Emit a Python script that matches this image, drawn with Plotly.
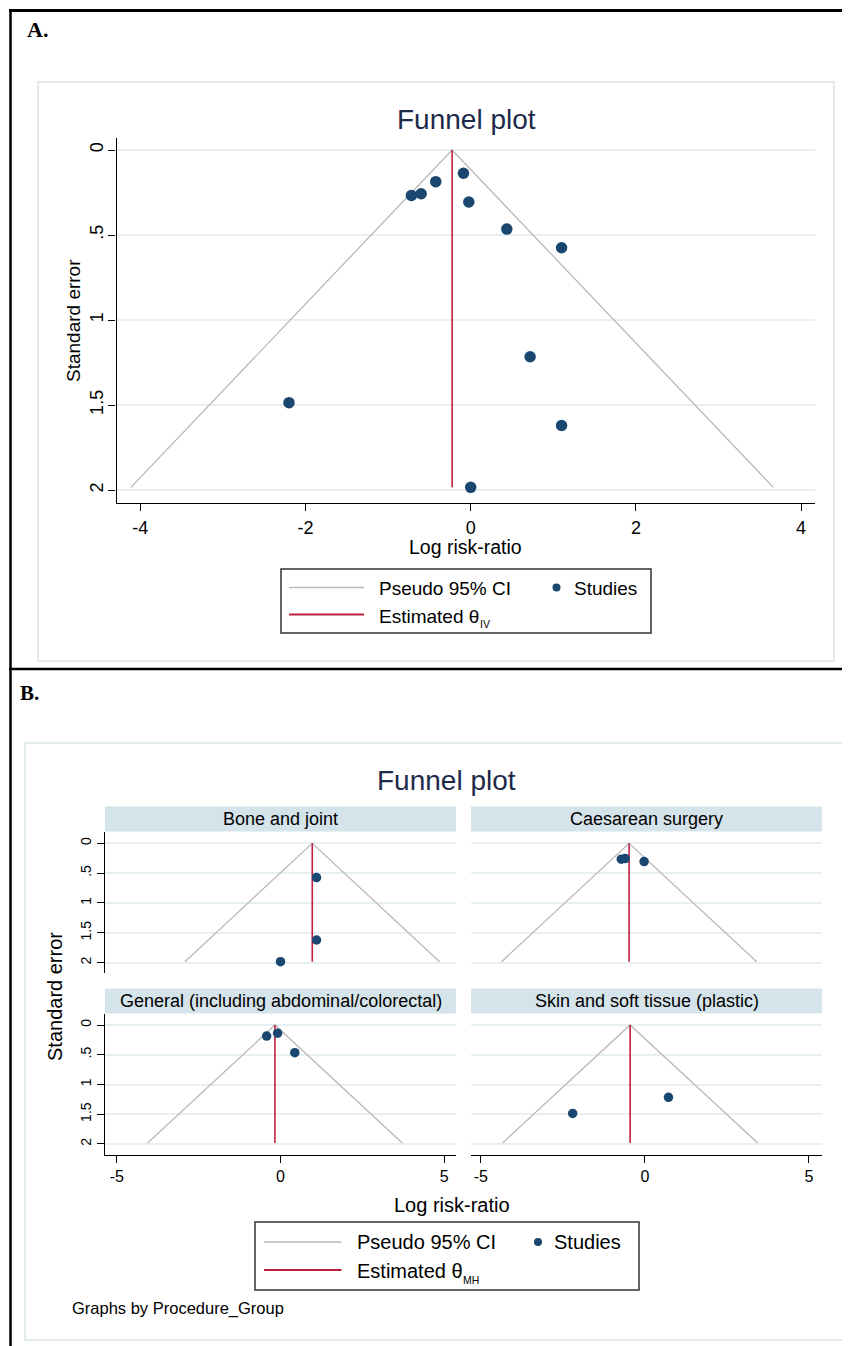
import plotly.graph_objects as go

# The page body has an 8px margin: draw the figure 8px smaller and shift all
# pixel positions so they land on the reference's page coordinates.
OFF = 8
W, H = 850 - OFF, 1346 - OFF
FONT = "Liberation Sans, Arial, Helvetica, sans-serif"

# ---------------- data ----------------
log_rr = [-0.088, -0.423, -0.60, -0.718, -0.023, 0.437, 1.10, 0.719, -2.20, 1.10, 0.0]
std_err = [0.137, 0.186, 0.257, 0.267, 0.306, 0.465, 0.575, 1.216, 1.486, 1.62, 1.984]
study_group = ["General (including abdominal/colorectal)", "General (including abdominal/colorectal)",
               "Caesarean surgery", "Caesarean surgery", "Caesarean surgery",
               "General (including abdominal/colorectal)", "Bone and joint",
               "Skin and soft tissue (plastic)", "Skin and soft tissue (plastic)",
               "Bone and joint", "Bone and joint"]
groups = ["Bone and joint", "Caesarean surgery",
          "General (including abdominal/colorectal)", "Skin and soft tissue (plastic)"]
theta_mh = [0.97, -0.48, -0.17, -0.45]
theta_iv = -0.225
xticks_a = [-4, -2, 0, 2, 4]
xticks_b = [-5, 0, 5]
yticks = [0, 0.5, 1, 1.5, 2]
yticklabels = ["0", ".5", "1", "1.5", "2"]

Z = 1.96
se_max = max(std_err)

NAVY = "#1a476f"
RED = "#c0203f"
GRAY = "#b9b9b9"
GRID = "#e6eff1"
TITLE_C = "#1d2a4a"


def X(p):
    return (p - OFF) / W


def Y(p):
    return 1 - (p - OFF) / H


fig = go.Figure()


def add_funnel(theta, xs, ys, xa, ya, msize):
    fig.add_trace(go.Scatter(
        x=[theta - Z * se_max, theta, theta + Z * se_max], y=[se_max, 0, se_max],
        mode="lines", line=dict(color=GRAY, width=1.3), xaxis=xa, yaxis=ya,
        showlegend=False, hoverinfo="skip"))
    fig.add_trace(go.Scatter(
        x=[theta, theta], y=[0, se_max], mode="lines",
        line=dict(color=RED, width=1.6), xaxis=xa, yaxis=ya,
        showlegend=False, hoverinfo="skip"))
    fig.add_trace(go.Scatter(
        x=xs, y=ys, mode="markers", marker=dict(color=NAVY, size=msize),
        xaxis=xa, yaxis=ya, showlegend=False))


# Panel A
add_funnel(theta_iv, log_rr, std_err, "x", "y", 11.5)

# Panel B
axes_b = [("x2", "y2"), ("x3", "y3"), ("x4", "y4"), ("x5", "y5")]
for g, th, (xa, ya) in zip(groups, theta_mh, axes_b):
    xs = [v for v, gg in zip(log_rr, study_group) if gg == g]
    ys = [v for v, gg in zip(std_err, study_group) if gg == g]
    add_funnel(th, xs, ys, xa, ya, 9.5)

tickfont_a = dict(family=FONT, size=18, color="black")

layout = dict(
    width=W, height=H, margin=dict(l=0, r=0, t=0, b=0),
    paper_bgcolor="white", plot_bgcolor="white", showlegend=False,
    font=dict(family=FONT, color="black"),
)

# Panel A axes
layout["xaxis"] = dict(domain=[X(116.5), X(815)], range=[-4.288, 4.168], anchor="y",
                       showline=True, linecolor="black", linewidth=1.3, mirror=False,
                       ticks="outside", ticklen=7, tickcolor="black", tickwidth=1.2,
                       tickvals=xticks_a, ticktext=[str(v) for v in xticks_a],
                       tickfont=tickfont_a, showgrid=False, zeroline=False,
                       ticklabelstandoff=1)
layout["yaxis"] = dict(domain=[Y(503), Y(138)], range=[2.076, -0.0706], anchor="x",
                       showline=True, linecolor="black", linewidth=1.3,
                       ticks="outside", ticklen=7, tickcolor="black", tickwidth=1.2,
                       tickvals=yticks, ticktext=yticklabels, tickangle=-90,
                       tickfont=tickfont_a, showgrid=True, gridcolor=GRID, gridwidth=1.5,
                       zeroline=False, ticklabelstandoff=-2)

# Panel B axes
cols = [(105, 456, [-5.359, 5.359]), (471, 822, [-5.30, 5.40])]
rows = [(832, 973, [2.173, -0.189]), (1014, 1155, [2.185, -0.185])]
for i, (xa, ya) in enumerate(axes_b):
    r, c = divmod(i, 2)
    x0, x1, xr = cols[c]
    y0, y1, yr = rows[r]
    n = xa[1:]
    bottom = r == 1
    left = c == 0
    layout["xaxis" + n] = dict(domain=[X(x0), X(x1)], range=xr, anchor=ya,
                               showline=bottom, linecolor="black", linewidth=1.3,
                               ticks="outside" if bottom else "", ticklen=7,
                               tickcolor="black", tickwidth=1.2,
                               tickvals=xticks_b, ticktext=[str(v) for v in xticks_b],
                               showticklabels=bottom,
                               tickfont=dict(family=FONT, size=16, color="black"),
                               showgrid=False, zeroline=False)
    layout["yaxis" + n] = dict(domain=[Y(y1), Y(y0)], range=yr, anchor=xa,
                               showline=left, linecolor="black", linewidth=1.3,
                               ticks="outside" if left else "", ticklen=7,
                               tickcolor="black", tickwidth=1.2,
                               tickvals=yticks, ticktext=yticklabels, tickangle=-90,
                               showticklabels=left,
                               tickfont=dict(family=FONT, size=14, color="black"),
                               showgrid=True, gridcolor=GRID, gridwidth=1.5,
                               zeroline=False)

fig.update_layout(**layout)

shapes = []
annotations = []


def rect(x0, y0, x1, y1, **kw):
    shapes.append(dict(type="rect", xref="paper", yref="paper",
                       x0=X(x0), x1=X(x1), y0=Y(y1), y1=Y(y0), **kw))


def hline(x0, x1, y, color, width):
    shapes.append(dict(type="line", xref="paper", yref="paper",
                       x0=X(x0), x1=X(x1), y0=Y(y), y1=Y(y),
                       line=dict(color=color, width=width)))


def vline(x, y0, y1, color, width):
    shapes.append(dict(type="line", xref="paper", yref="paper",
                       x0=X(x), x1=X(x), y0=Y(y0), y1=Y(y1),
                       line=dict(color=color, width=width)))


def text(x, y, s, size, xanchor="center", color="black", angle=0, family=FONT,
         weight="normal"):
    annotations.append(dict(x=X(x), y=Y(y), xref="paper", yref="paper", text=s,
                            showarrow=False, xanchor=xanchor, yanchor="middle",
                            textangle=angle,
                            font=dict(family=family, size=size, color=color,
                                      weight=weight)))


# outer black frame
hline(9, 850, 10.5, "black", 3)
vline(10.5, 9, 1346, "black", 2.5)
hline(9, 850, 669, "black", 2.5)

# light graph-region boxes
rect(38, 82, 834, 661, line=dict(color="#e2ecee", width=2), layer="below")
rect(25, 743, 849, 1340, line=dict(color="#e2ecee", width=2), layer="below")

# panel letters
SERIF = "Liberation Serif, Times New Roman, serif"
text(25, 29, "A.", 22, xanchor="left", family=SERIF, weight="bold")
text(18, 693, "B.", 21, xanchor="left", family=SERIF, weight="bold")

# Panel A texts
text(466, 119, "Funnel plot", 28, color=TITLE_C)
text(73, 321, "Standard error", 19, angle=-90)
text(465, 547, "Log risk-ratio", 19.5)

# Panel A legend
rect(281, 569, 651, 633, line=dict(color="#333333", width=1.5))
hline(289, 364, 587.5, GRAY, 1.6)
hline(289, 364, 614.5, RED, 1.8)
shapes.append(dict(type="circle", xref="paper", yref="paper",
                   x0=X(552.5), x1=X(560.5), y0=Y(591.5), y1=Y(583.5),
                   fillcolor=NAVY, line=dict(width=0)))
text(376.5, 588, "Pseudo 95% CI", 19, xanchor="left")
text(572, 588, "Studies", 19, xanchor="left")
text(376.5, 616, "Estimated θ", 19, xanchor="left")
text(477.5, 624, "IV", 10.5, xanchor="left")

# Panel B texts
text(447, 780, "Funnel plot", 28, color=TITLE_C)
text(55, 997, "Standard error", 20, angle=-90)
text(452, 1205, "Log risk-ratio", 20)

# strips
strip_rows = [(806.5, 831.5), (988.5, 1013.5)]
for i, g in enumerate(groups):
    r, c = divmod(i, 2)
    x0, x1, _ = cols[c]
    y0, y1 = strip_rows[r]
    rect(x0, y0, x1, y1, fillcolor="#d5e3ea", line=dict(width=0), layer="below")
    text((x0 + x1) / 2, (y0 + y1) / 2, g, 18)

# Panel B legend
rect(255, 1222, 639, 1290, line=dict(color="#333333", width=1.5))
hline(264, 341.5, 1242, GRAY, 1.6)
hline(264, 341.5, 1270, RED, 1.8)
shapes.append(dict(type="circle", xref="paper", yref="paper",
                   x0=X(534), x1=X(542), y0=Y(1246), y1=Y(1238),
                   fillcolor=NAVY, line=dict(width=0)))
text(355, 1242, "Pseudo 95% CI", 20, xanchor="left")
text(552, 1242, "Studies", 20, xanchor="left")
text(355, 1271, "Estimated θ", 20, xanchor="left")
text(461.5, 1280, "MH", 10.5, xanchor="left")

text(69.5, 1308, "Graphs by Procedure_Group", 16.5, xanchor="left")

fig.update_layout(shapes=shapes, annotations=annotations)
fig.write_html("out.html")
